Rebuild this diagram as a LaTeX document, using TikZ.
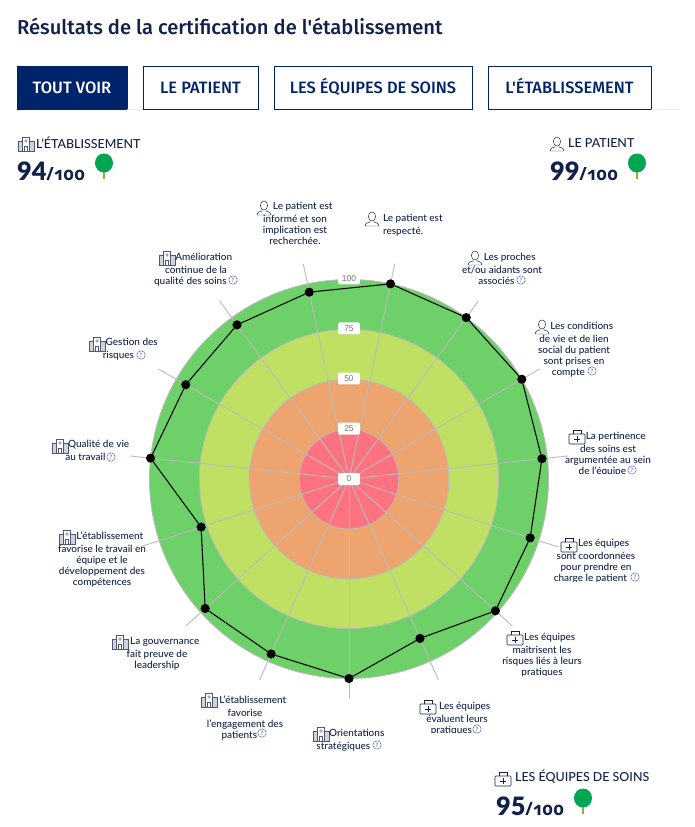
\documentclass[tikz,border=0pt]{standalone}
\usepackage{fontspec}
\usepackage{tikz}
\usetikzlibrary{calc,shadows}
\setmainfont[UprightFont={* Medium}]{Lato}
\newfontfamily\headfont[UprightFont={* Medium}]{Fira Sans}
\newfontfamily\scorefont[Numbers=OldStyle]{Open Sans}
\newfontfamily\badgefont{Liberation Sans}
\definecolor{navy}{HTML}{12214A}
\definecolor{tabnavy}{HTML}{00246B}
\definecolor{helpblue}{HTML}{3F55C4}
\definecolor{spoke}{HTML}{BBBBBB}
\definecolor{ringgreen}{HTML}{6DD069}
\definecolor{ringlime}{HTML}{BFE062}
\definecolor{ringorange}{HTML}{EDA46E}
\definecolor{ringred}{HTML}{FF7380}
\definecolor{crown}{HTML}{00A651}
\definecolor{trunk}{HTML}{8DB33C}
\newcommand{\iconroom}{\hspace*{22pt}}
\newcommand{\helproom}{\hspace*{16pt}}
\begin{document}
\begin{tikzpicture}[scale=0.05]
      \tikzset{mark coordinate/.style={inner sep=0pt,
          outer sep=0pt,
          minimum size=0.46cm,
          fill=#1,
          circle},
        every pic/.style={scale=0.05},
        crit/.style={inner sep=0pt, align=center, anchor=north, text=navy, yshift=-3.5pt,
          font=\fontsize{14.2}{15.6}\selectfont},
        helpmark/.style={circle, draw=helpblue, line width=0.6pt, text=helpblue,
          inner sep=0pt, minimum size=0.42cm, font=\fontsize{8.5}{8.5}\selectfont},
        badge/.style={fill=white, rounded corners=1.5pt, inner sep=0pt,
          minimum width=1.08cm, minimum height=0.6cm, text=black!55,
          font=\badgefont\fontsize{12}{12}\selectfont,
          drop shadow={shadow xshift=0pt, shadow yshift=-0.5pt, opacity=0.2}},
        tab/.style={draw=tabnavy, line width=1.1pt, text=tabnavy, inner sep=0pt,
          minimum height=2.15cm, text height=16pt, text depth=0pt,
          font=\headfont\fontsize{23.4}{23.4}\selectfont},
        group/.style={anchor=west, inner sep=0pt, text=navy,
          font=\fontsize{17.7}{17.7}\selectfont},
        score/.style={anchor=base west, inner sep=0pt, text=navy,
          font=\bfseries\fontsize{36}{36}\selectfont},
        ring/.style={draw=spoke, line width=1.2pt, fill=#1},
        spokeline/.style={draw=spoke, line width=1.3pt},
        buildingicon/.pic={
          \draw [navy!75, line width=0.6pt, fill=white] (-3.5,-7) rectangle (3.5,7);
          \draw [navy!75, line width=0.6pt, fill=navy!20] (-8,-7) rectangle (-3.5,3);
          \draw [navy!75, line width=0.6pt, fill=navy!20] (3.5,-7) rectangle (8,3);
          \draw [navy!75, line width=0.6pt] (-1.5,-7) rectangle (1.5,-2);
          \draw [navy!75, line width=0.5pt] (0,3) circle (1.3);
        },
        personicon/.pic={
          \draw [navy, line width=0.7pt] (0,2.5) ellipse (3.6 and 4.6);
          \draw [navy, line width=0.7pt] (-2,-1.8) -- (-2,-3) .. controls (-6,-4) and (-7,-5) .. (-7,-7)
            -- (7,-7) .. controls (7,-5) and (6,-4) .. (2,-3) -- (2,-1.8);
        },
        bagicon/.pic={
          \draw [navy, line width=0.8pt, rounded corners=1pt] (-8,-7) rectangle (8,3);
          \draw [navy, line width=0.8pt] (-4,3) -- (-4,6.5) -- (4,6.5) -- (4,3);
          \draw [navy, line width=0.9pt] (-3,-2) -- (3,-2) (0,-5) -- (0,1);
        },
        treeicon/.pic={
          \draw [trunk, line width=2pt] (0,-7) -- (0,-16);
          \fill [crown] (0,0) ellipse (9 and 9.5);
        }
      }
      \useasboundingbox (-349,-348) rectangle (346,479);

      \node [anchor=west, inner sep=0pt, text=navy, font=\headfont\fontsize{28.7}{28.7}\selectfont] (title) at (-332,453) {Résultats de la certification de l'établissement};

      \coordinate (tabend) at (331,369.5);
      \node [tab, fill=tabnavy, text=white, minimum width=5.5cm] (tabAll) at (-277,391.5) {TOUT VOIR};
      \node [tab, fill=white, minimum width=5.75cm] (tabPatient) at (-148.5,391.5) {LE PATIENT};
      \node [tab, fill=white, minimum width=9.9cm] (tabTeams) at (24,391.5) {LES ÉQUIPES DE SOINS};
      \node [tab, fill=white, minimum width=8.15cm] (tabSite) at (220.5,391.5) {L'ÉTABLISSEMENT};
      \draw [black!8, line width=1pt] (tabAll.south east) -- (tabPatient.south west);
      \draw [black!8, line width=1pt] (tabSite.south east) -- (tabend);

      \pic at (-323,335) {buildingicon};
      \node [group] (groupSite) at (-313,336) {L'ÉTABLISSEMENT};
      \node [score] (scoreSite) at (-332,298) {94{\scorefont\fontsize{26}{26}\selectfont /100}};
      \pic at (-245,316) {treeicon};
      \pic at (208,335) {personicon};
      \node [group] (groupPatient) at (219,336) {LE PATIENT};
      \node [score] (scorePatient) at (201,298) {99{\scorefont\fontsize{26}{26}\selectfont /100}};
      \pic at (288,316) {treeicon};
      \pic at (154,-300) {bagicon};
      \node [group] (groupTeams) at (166,-298) {LES ÉQUIPES DE SOINS};
      \node [score] (scoreTeams) at (147,-336) {95{\scorefont\fontsize{26}{26}\selectfont /100}};
      \pic at (234,-319) {treeicon};

      \draw [ring=ringgreen] (0,0) circle (199.5);
      \draw [ring=ringlime] (0,0) circle (149.6);
      \draw [ring=ringorange] (0,0) circle (99.8);
      \draw [ring=ringred] (0,0) circle (49.9);

      \coordinate (O) at (0,0);
      \coordinate (endRespect) at (78:220);
      \coordinate (endInform) at (102:220);
      \coordinate (endQuality) at (126:220);
      \coordinate (endRisk) at (150:220);
      \coordinate (endWork) at (174:220);
      \coordinate (endTeam) at (198:220);
      \coordinate (endGov) at (222:220);
      \coordinate (endEngage) at (246:220);
      \coordinate (endStrat) at (270:220);
      \coordinate (endEval) at (294:220);
      \coordinate (endMaster) at (318:220);
      \coordinate (endCoord) at (342:220);
      \coordinate (endRelevance) at (6:220);
      \coordinate (endLife) at (30:220);
      \coordinate (endRelatives) at (54:220);
      \draw [spokeline] (O)--(endRespect);
      \draw [spokeline] (O)--(endInform);
      \draw [spokeline] (O)--(endQuality);
      \draw [spokeline] (O)--(endRisk);
      \draw [spokeline] (O)--(endWork);
      \draw [spokeline] (O)--(endTeam);
      \draw [spokeline] (O)--(endGov);
      \draw [spokeline] (O)--(endEngage);
      \draw [spokeline] (O)--(endStrat);
      \draw [spokeline] (O)--(endEval);
      \draw [spokeline] (O)--(endMaster);
      \draw [spokeline] (O)--(endCoord);
      \draw [spokeline] (O)--(endRelevance);
      \draw [spokeline] (O)--(endLife);
      \draw [spokeline] (O)--(endRelatives);

      \node [mark coordinate=black] (Respect) at (78:199.5) {};
      \node [mark coordinate=black] (Inform) at (102:191) {};
      \node [mark coordinate=black] (Quality) at (126:190.5) {};
      \node [mark coordinate=black] (Risk) at (150:188.5) {};
      \node [mark coordinate=black] (Work) at (174:199.5) {};
      \node [mark coordinate=black] (Team) at (198:155.5) {};
      \node [mark coordinate=black] (Gov) at (222:193.5) {};
      \node [mark coordinate=black] (Engage) at (246:191.5) {};
      \node [mark coordinate=black] (Strat) at (270:199.5) {};
      \node [mark coordinate=black] (Eval) at (294:174.5) {};
      \node [mark coordinate=black] (Master) at (318:197) {};
      \node [mark coordinate=black] (Coord) at (342:190.5) {};
      \node [mark coordinate=black] (Relevance) at (6:194) {};
      \node [mark coordinate=black] (Life) at (30:199.5) {};
      \node [mark coordinate=black] (Relatives) at (54:199.5) {};
      \draw [line width=1.5pt] (Respect)--(Inform)--(Quality)--(Risk)--(Work)--(Team)--(Gov)--(Engage)--(Strat)--(Eval)--(Master)--(Coord)--(Relevance)--(Life)--(Relatives)--(Respect);

      \node [badge] (mark0) at (0,0) {0};
      \node [badge] (mark25) at (0,50.5) {25};
      \node [badge] (mark50) at (0,100.5) {50};
      \node [badge] (mark75) at (0,150.5) {75};
      \node [badge] (mark100) at (0,200.5) {100};

      \pic at (-85,271) {personicon};
      \node [crit] (txtInform) at (-54,279) {\iconroom Le patient est\\[2.8pt]informé et son\\implication est\\recherchée.};
      \pic at (23,260) {personicon};
      \node [crit, anchor=north west, align=left] (txtRespect) at (34,267.5) {Le patient est\\[2.8pt]respecté.};
      \pic at (126,221) {personicon};
      \node [crit] (txtRelatives) at (153,228) {\iconroom Les proches\\[2.8pt]et/ou aidants sont\\associés\helproom};
      \node [helpmark] (helpRelatives) at (172,199) {?};
      \pic at (193,152) {personicon};
      \node [crit] (txtLife) at (225,159) {\iconroom Les conditions\\[2.8pt]de vie et de lien\\social du patient\\sont prises en\\compte\helproom};
      \node [helpmark] (helpLife) at (243,108) {?};
      \pic at (228,42) {bagicon};
      \begin{scope}
        \clip (200,5.5) rectangle (320,60);
        \node [crit] (txtRelevance) at (259,49) {\iconroom La pertinence\\[2.8pt]des soins est\\argumentée au sein\\de l'équipe\helproom};
      \end{scope}
      \node [helpmark] (helpRelevance) at (283,9) {?};
      \pic at (220,-66) {bagicon};
      \begin{scope}
        \clip (190,-102.7) rectangle (320,-50);
        \node [crit] (txtCoord) at (247,-58) {\iconroom Les équipes\\[2.8pt]sont coordonnées\\pour prendre en\\charge le patient\helproom};
      \end{scope}
      \node [helpmark] (helpCoord) at (286,-98) {?};
      \pic at (166,-159) {bagicon};
      \begin{scope}
        \clip (140,-196) rectangle (250,-145);
        \node [crit] (txtMaster) at (193,-152) {\iconroom Les équipes\\[2.8pt]maîtrisent les\\risques liés à leurs\\pratiques};
      \end{scope}
      \pic at (79,-228) {bagicon};
      \begin{scope}
        \clip (60,-253.7) rectangle (160,-215);
        \node [crit] (txtEval) at (108,-221) {\iconroom Les équipes\\[2.8pt]évaluent leurs\\pratiques\helproom};
      \end{scope}
      \node [helpmark] (helpEval) at (128,-250) {?};
      \pic at (-28,-255) {buildingicon};
      \node [crit] (txtStrat) at (0,-248) {\iconroom Orientations\\[2.8pt]stratégiques\helproom};
      \node [helpmark] (helpStrat) at (28,-266) {?};
      \pic at (-140,-221) {buildingicon};
      \node [crit] (txtEngage) at (-104,-214) {\iconroom L'établissement\\[2.8pt]favorise\\l'engagement des\\patients\helproom};
      \node [helpmark] (helpEngage) at (-87,-254) {?};
      \pic at (-229,-163) {buildingicon};
      \node [crit] (txtGov) at (-192,-156) {\iconroom La gouvernance\\[2.8pt]fait preuve de\\leadership};
      \pic at (-282,-58) {buildingicon};
      \node [crit] (txtTeam) at (-247,-50.5) {\iconroom L'établissement\\[2.8pt]favorise le travail en\\équipe et le\\développement des\\compétences};
      \pic at (-289,33) {buildingicon};
      \node [crit] (txtWork) at (-258,41) {\iconroom Qualité de vie\\[2.8pt]au travail\helproom};
      \node [helpmark] (helpWork) at (-238,22) {?};
      \pic at (-252,135) {buildingicon};
      \node [crit] (txtRisk) at (-225,143) {\iconroom Gestion des\\[2.8pt]risques\helproom};
      \node [helpmark] (helpRisk) at (-208,124) {?};
      \pic at (-182,221) {buildingicon};
      \node [crit] (txtQuality) at (-153,228) {\iconroom Amélioration\\[2.8pt]continue de la\\qualité des soins\helproom};
      \node [helpmark] (helpQuality) at (-116,199) {?};
    \end{tikzpicture}
\end{document}
